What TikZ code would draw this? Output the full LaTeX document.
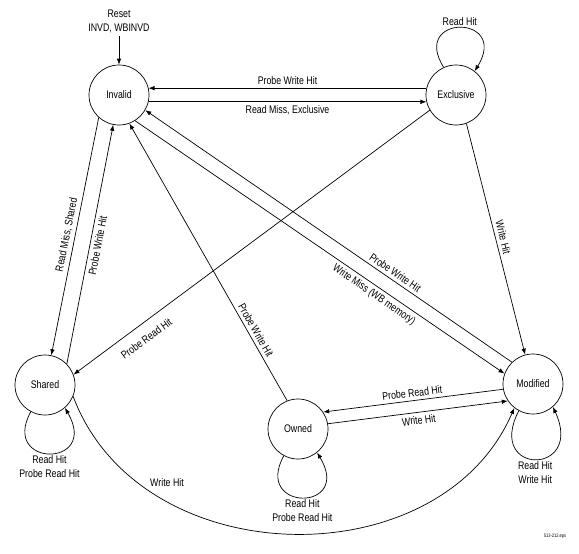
\documentclass[tikz,border=0pt]{standalone}
\usepackage{fontspec}
\setmainfont{Liberation Sans}[FakeStretch=0.8]
\usetikzlibrary{arrows.meta}

\begin{document}
\begin{tikzpicture}[x=1pt,y=-1pt,line width=0.7pt,font=\fontsize{11}{14}\selectfont,state/.style={shape=circle,draw=black,minimum size=60pt,inner sep=0pt},tr/.style={-{Latex[length=6pt,width=4.5pt]}},loopl/.style={align=center,inner sep=2pt}]
\useasboundingbox (0,0) rectangle (579,554);

\node[state] (I) at (119,95) {Invalid};
\node[state] (E) at (456,95) {Exclusive};
\node[state] (S) at (45,385) {Shared};
\node[state] (O) at (298,429) {Owned};
\node[state] (M) at (533,384) {Modified};

\node[align=center] (R) at (119,21) {Reset\\INVD, WBINVD};
\draw[tr] (R) -- (I);

\draw[tr] (E.167) -- node[above] (IE1) {Probe Write Hit} (I.13);
\draw[tr] (I.-13) -- node[below] (IE2) {Read Miss, Exclusive} (E.193);

\draw[tr] (I.228) -- node[sloped,above] (IS1) {Read Miss, Shared} (S.78);
\draw[tr] (S.44) -- node[sloped,below] (IS2) {Probe Write Hit} (I.259);
\draw[tr] (O.111) -- node[pos=0.24,sloped,above] (IO1) {Probe Write Hit} (I.290);
\draw[tr] (E.210) -- node[pos=0.82,sloped,below=7pt] (ES1) {Probe Read Hit} (S.20);

\draw[tr] (M.134) -- node[pos=0.33,sloped,above] (IM1) {Probe Write Hit} (I.330);
\draw[tr] (I.302) -- node[pos=0.66,sloped,below] (IM2) {Write Miss (WB memory)} (M.160);
\draw[tr] (E.290) -- node[sloped,above] (EM1) {Write Hit} (M.105);

\draw[tr] (M.190) -- node[sloped,above] (OM1) {Probe Read Hit} (O.34);
\draw[tr] (O.10) -- node[sloped,below] (OM2) {Write Hit} (M.214);
\draw[tr] (S.338) .. controls (140,575) and (440,580) .. node[pos=0.2,right=9pt] (SM1) {Write Hit} (M.232);

\draw[tr] (E.114) .. controls (410,14) and (510,14) .. node[above,loopl] (EE) {Read Hit} (E.52);
\draw[tr] (S.242) .. controls (0,468) and (100,468) .. node[below,loopl] (SS) {Read Hit\\Probe Read Hit} (S.311);
\draw[tr] (O.242) .. controls (253,512) and (353,512) .. node[below,loopl] (OO) {Read Hit\\Probe Read Hit} (O.309);
\draw[tr] (M.242) .. controls (485,476) and (585,476) .. node[below,loopl] (MM) {Read Hit\\Write Hit} (M.311);

\node[font=\fontsize{5}{6}\selectfont] (F) at (555,536) {513-212.eps};
\end{tikzpicture}
\end{document}
